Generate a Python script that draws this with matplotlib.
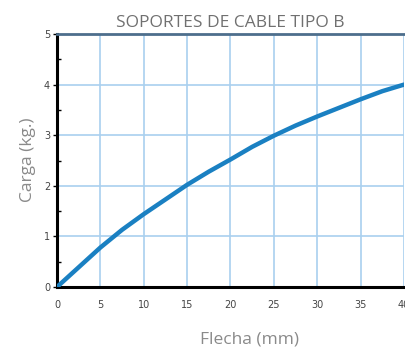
import matplotlib.pyplot as plt
from matplotlib.ticker import MultipleLocator

flecha = [0, 2.5, 5, 7.5, 10, 12.5, 15, 17.5, 20, 22.5, 25, 27.5, 30, 32.5, 35, 37.5, 40]
carga = [0, 0.39, 0.78, 1.13, 1.44, 1.73, 2.02, 2.28, 2.52, 2.77, 2.99, 3.19,
         3.37, 3.54, 3.71, 3.87, 4.0]
xticks = [0, 5, 10, 15, 20, 25, 30, 35, 40]
yticks = [0, 1, 2, 3, 4, 5]

fig = plt.figure(figsize=(4.06, 3.47), dpi=100)
ax = fig.add_axes([57 / 406, 1 - 287 / 347, 347 / 406, 253 / 347])

ax.plot(flecha, carga, color="#1a80c2", linewidth=3.2, solid_capstyle="round", zorder=3)

ax.set_xlim(0, 40)
ax.set_ylim(0, 5)
ax.set_xticks(xticks)
ax.set_yticks(yticks)
ax.yaxis.set_minor_locator(MultipleLocator(0.5))
ax.grid(True, color="#a9d0ef", linewidth=1.2)
ax.set_axisbelow(True)

for s in ["left", "bottom"]:
    ax.spines[s].set_color("black")
    ax.spines[s].set_linewidth(2.2)
ax.spines["top"].set_color("#4d6e8c")
ax.spines["top"].set_linewidth(2)
ax.spines["right"].set_visible(False)

ax.tick_params(axis="x", length=0, pad=9, labelsize=7, labelcolor="#444444")
ax.tick_params(axis="y", which="major", length=3, width=1, direction="out",
               pad=2, labelsize=7, labelcolor="#444444")
ax.tick_params(axis="y", which="minor", length=3, width=1, direction="in")

ax.set_title("SOPORTES DE CABLE TIPO B", fontsize=12.5, color="#707070",
             family="Open Sans", pad=5)
fig.text(28 / 406, 1 - 160 / 347, "Carga (kg.)", rotation=90, fontsize=12.5,
         color="#8a8a8a", family="Open Sans", ha="center", va="center")
fig.text(250 / 406, 1 - 340 / 347, "Flecha (mm)", fontsize=12.5,
         color="#8a8a8a", family="Open Sans", ha="center", va="center")

fig.savefig("out.png", dpi=100)
